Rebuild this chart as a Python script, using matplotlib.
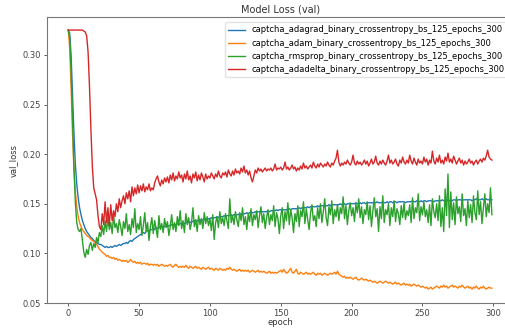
import matplotlib
matplotlib.use('Agg')
import matplotlib.pyplot as plt

epochs = list(range(300))

labels = [
    'captcha_adagrad_binary_crossentropy_bs_125_epochs_300',
    'captcha_adam_binary_crossentropy_bs_125_epochs_300',
    'captcha_rmsprop_binary_crossentropy_bs_125_epochs_300',
    'captcha_adadelta_binary_crossentropy_bs_125_epochs_300',
]

adagrad = [
    0.325, 0.322, 0.300, 0.262, 0.222, 0.190, 0.170, 0.156, 0.146, 0.139,
    0.133, 0.129, 0.125, 0.122, 0.120, 0.118, 0.116, 0.115, 0.113, 0.112,
    0.111, 0.110, 0.109, 0.109, 0.108, 0.107, 0.106, 0.107, 0.106, 0.106,
    0.107, 0.106, 0.107, 0.108, 0.107, 0.108, 0.109, 0.108, 0.109, 0.110,
    0.110, 0.111, 0.110, 0.112, 0.113, 0.112, 0.114, 0.115, 0.116, 0.117,
    0.118, 0.119, 0.120, 0.121, 0.120, 0.122, 0.123, 0.122, 0.124, 0.124,
    0.125, 0.124, 0.126, 0.125, 0.126, 0.127, 0.126, 0.127, 0.127, 0.128,
    0.127, 0.128, 0.128, 0.129, 0.128, 0.129, 0.129, 0.130, 0.129, 0.130,
    0.130, 0.131, 0.130, 0.131, 0.131, 0.132, 0.131, 0.132, 0.132, 0.133,
    0.132, 0.133, 0.133, 0.134, 0.133, 0.134, 0.134, 0.135, 0.134, 0.135,
    0.135, 0.136, 0.135, 0.136, 0.136, 0.137, 0.136, 0.137, 0.137, 0.137,
    0.138, 0.137, 0.138, 0.138, 0.138, 0.139, 0.138, 0.139, 0.139, 0.139,
    0.139, 0.140, 0.139, 0.140, 0.140, 0.140, 0.141, 0.140, 0.141, 0.141,
    0.141, 0.141, 0.142, 0.141, 0.142, 0.142, 0.141, 0.142, 0.142, 0.142,
    0.142, 0.143, 0.142, 0.143, 0.143, 0.143, 0.143, 0.144, 0.143, 0.144,
    0.144, 0.143, 0.144, 0.144, 0.144, 0.144, 0.145, 0.144, 0.145, 0.145,
    0.145, 0.145, 0.145, 0.146, 0.145, 0.146, 0.146, 0.146, 0.146, 0.147,
    0.146, 0.147, 0.147, 0.147, 0.147, 0.147, 0.148, 0.147, 0.148, 0.148,
    0.148, 0.148, 0.148, 0.148, 0.149, 0.148, 0.149, 0.149, 0.149, 0.149,
    0.149, 0.149, 0.150, 0.149, 0.150, 0.150, 0.149, 0.150, 0.150, 0.150,
    0.150, 0.150, 0.150, 0.151, 0.150, 0.150, 0.151, 0.150, 0.151, 0.151,
    0.150, 0.151, 0.151, 0.151, 0.151, 0.151, 0.151, 0.151, 0.152, 0.151,
    0.151, 0.151, 0.152, 0.151, 0.151, 0.152, 0.151, 0.152, 0.152, 0.151,
    0.152, 0.152, 0.151, 0.152, 0.152, 0.152, 0.152, 0.152, 0.151, 0.152,
    0.152, 0.152, 0.152, 0.153, 0.152, 0.152, 0.153, 0.152, 0.152, 0.153,
    0.152, 0.153, 0.153, 0.152, 0.153, 0.153, 0.153, 0.153, 0.152, 0.153,
    0.153, 0.153, 0.153, 0.153, 0.154, 0.153, 0.153, 0.154, 0.153, 0.153,
    0.154, 0.153, 0.154, 0.154, 0.153, 0.154, 0.154, 0.154, 0.153, 0.154,
    0.154, 0.154, 0.154, 0.154, 0.154, 0.153, 0.154, 0.154, 0.155, 0.154,
    0.154, 0.154, 0.155, 0.154, 0.154, 0.155, 0.154, 0.154, 0.155, 0.154,
]

adam = [
    0.325, 0.308, 0.268, 0.222, 0.185, 0.162, 0.147, 0.137, 0.131, 0.127,
    0.124, 0.122, 0.120, 0.118, 0.117, 0.116, 0.114, 0.113, 0.112, 0.111,
    0.109, 0.107, 0.104, 0.103, 0.101, 0.100, 0.099, 0.097, 0.098, 0.096,
    0.096, 0.095, 0.096, 0.094, 0.095, 0.093, 0.094, 0.093, 0.092, 0.093,
    0.092, 0.093, 0.091, 0.092, 0.094, 0.092, 0.091, 0.092, 0.090, 0.091,
    0.090, 0.091, 0.089, 0.090, 0.090, 0.089, 0.090, 0.088, 0.089, 0.089,
    0.088, 0.089, 0.088, 0.089, 0.087, 0.088, 0.089, 0.088, 0.087, 0.088,
    0.087, 0.088, 0.089, 0.087, 0.086, 0.088, 0.089, 0.087, 0.086, 0.087,
    0.086, 0.087, 0.086, 0.088, 0.086, 0.085, 0.087, 0.086, 0.085, 0.086,
    0.087, 0.085, 0.086, 0.085, 0.084, 0.086, 0.085, 0.084, 0.085, 0.086,
    0.084, 0.085, 0.084, 0.083, 0.085, 0.084, 0.083, 0.085, 0.084, 0.083,
    0.084, 0.083, 0.085, 0.084, 0.086, 0.084, 0.083, 0.084, 0.083, 0.082,
    0.083, 0.084, 0.082, 0.083, 0.082, 0.083, 0.082, 0.083, 0.081, 0.082,
    0.083, 0.082, 0.081, 0.082, 0.083, 0.081, 0.082, 0.081, 0.082, 0.081,
    0.080, 0.081, 0.082, 0.080, 0.081, 0.080, 0.081, 0.080, 0.081, 0.082,
    0.083, 0.081, 0.084, 0.082, 0.080, 0.081, 0.083, 0.085, 0.081, 0.080,
    0.082, 0.084, 0.080, 0.079, 0.081, 0.080, 0.079, 0.080, 0.081, 0.079,
    0.080, 0.079, 0.080, 0.081, 0.079, 0.078, 0.080, 0.079, 0.080, 0.078,
    0.079, 0.080, 0.079, 0.078, 0.079, 0.080, 0.079, 0.080, 0.081, 0.079,
    0.082, 0.079, 0.078, 0.077, 0.076, 0.077, 0.075, 0.076, 0.075, 0.076,
    0.075, 0.074, 0.075, 0.076, 0.074, 0.073, 0.074, 0.075, 0.074, 0.073,
    0.074, 0.073, 0.072, 0.073, 0.072, 0.071, 0.072, 0.071, 0.070, 0.071,
    0.072, 0.071, 0.070, 0.071, 0.072, 0.071, 0.070, 0.071, 0.070, 0.069,
    0.070, 0.071, 0.069, 0.070, 0.069, 0.068, 0.069, 0.070, 0.068, 0.069,
    0.068, 0.069, 0.067, 0.068, 0.069, 0.068, 0.067, 0.068, 0.067, 0.066,
    0.067, 0.066, 0.065, 0.066, 0.064, 0.065, 0.066, 0.064, 0.065, 0.066,
    0.067, 0.066, 0.065, 0.067, 0.066, 0.068, 0.066, 0.067, 0.065, 0.066,
    0.067, 0.068, 0.066, 0.067, 0.066, 0.065, 0.067, 0.066, 0.068, 0.066,
    0.065, 0.066, 0.067, 0.065, 0.066, 0.064, 0.066, 0.065, 0.067, 0.065,
    0.064, 0.066, 0.065, 0.067, 0.065, 0.064, 0.065, 0.066, 0.065, 0.065,
]

rmsprop = [
    0.325, 0.318, 0.285, 0.236, 0.188, 0.152, 0.131, 0.124, 0.122, 0.125,
    0.113, 0.101, 0.096, 0.104, 0.099, 0.108, 0.111, 0.103, 0.110, 0.106,
    0.116, 0.111, 0.121, 0.117, 0.128, 0.119, 0.133, 0.122, 0.136, 0.124,
    0.131, 0.120, 0.138, 0.126, 0.130, 0.121, 0.134, 0.127, 0.118, 0.132,
    0.125, 0.140, 0.122, 0.129, 0.119, 0.135, 0.126, 0.145, 0.121, 0.130,
    0.124, 0.137, 0.118, 0.128, 0.141, 0.122, 0.131, 0.113, 0.127, 0.136,
    0.120, 0.133, 0.125, 0.116, 0.138, 0.124, 0.130, 0.121, 0.135, 0.126,
    0.132, 0.118, 0.127, 0.139, 0.124, 0.131, 0.122, 0.137, 0.128, 0.143,
    0.125, 0.133, 0.121, 0.140, 0.129, 0.136, 0.124, 0.131, 0.146, 0.127,
    0.134, 0.122, 0.138, 0.129, 0.135, 0.125, 0.141, 0.130, 0.137, 0.128,
    0.135, 0.123, 0.139, 0.114, 0.131, 0.137, 0.126, 0.142, 0.130, 0.136,
    0.128, 0.140, 0.133, 0.125, 0.155, 0.131, 0.138, 0.129, 0.142, 0.134,
    0.127, 0.141, 0.133, 0.146, 0.129, 0.137, 0.124, 0.140, 0.132, 0.145,
    0.128, 0.139, 0.134, 0.143, 0.126, 0.138, 0.147, 0.131, 0.140, 0.125,
    0.136, 0.144, 0.129, 0.139, 0.133, 0.148, 0.127, 0.141, 0.135, 0.120,
    0.138, 0.146, 0.125, 0.142, 0.133, 0.151, 0.129, 0.144, 0.136, 0.121,
    0.140, 0.132, 0.148, 0.127, 0.143, 0.137, 0.152, 0.130, 0.145, 0.134,
    0.124, 0.141, 0.149, 0.133, 0.138, 0.127, 0.146, 0.135, 0.150, 0.131,
    0.142, 0.155, 0.136, 0.128, 0.147, 0.139, 0.153, 0.130, 0.144, 0.137,
    0.149, 0.133, 0.146, 0.140, 0.157, 0.135, 0.148, 0.129, 0.143, 0.151,
    0.138, 0.146, 0.132, 0.150, 0.141, 0.155, 0.136, 0.147, 0.130, 0.144,
    0.139, 0.152, 0.134, 0.148, 0.127, 0.143, 0.156, 0.137, 0.145, 0.122,
    0.147, 0.135, 0.158, 0.131, 0.144, 0.139, 0.150, 0.128, 0.146, 0.137,
    0.153, 0.132, 0.145, 0.140, 0.129, 0.148, 0.136, 0.151, 0.134, 0.143,
    0.138, 0.149, 0.131, 0.156, 0.135, 0.146, 0.141, 0.160, 0.133, 0.147,
    0.139, 0.152, 0.137, 0.144, 0.131, 0.149, 0.128, 0.155, 0.142, 0.136,
    0.150, 0.133, 0.158, 0.127, 0.146, 0.122, 0.165, 0.138, 0.180, 0.126,
    0.162, 0.134, 0.151, 0.129, 0.157, 0.140, 0.147, 0.132, 0.160, 0.138,
    0.145, 0.128, 0.153, 0.136, 0.149, 0.131, 0.158, 0.141, 0.134, 0.163,
    0.139, 0.152, 0.130, 0.146, 0.160, 0.137, 0.150, 0.141, 0.166, 0.139,
]

adadelta = [
    0.325, 0.325, 0.325, 0.325, 0.325, 0.325, 0.325, 0.325, 0.325, 0.325,
    0.325, 0.324, 0.323, 0.319, 0.303, 0.268, 0.225, 0.188, 0.166, 0.160,
    0.154, 0.138, 0.127, 0.124, 0.140, 0.129, 0.152, 0.131, 0.146, 0.128,
    0.149, 0.133, 0.143, 0.137, 0.150, 0.142, 0.155, 0.146, 0.153, 0.158,
    0.150, 0.161, 0.155, 0.163, 0.152, 0.167, 0.158, 0.166, 0.160, 0.169,
    0.161, 0.168, 0.163, 0.170, 0.162, 0.167, 0.164, 0.170, 0.163, 0.166,
    0.164, 0.171, 0.175, 0.178, 0.172, 0.168, 0.174, 0.170, 0.176, 0.172,
    0.177, 0.171, 0.179, 0.174, 0.181, 0.173, 0.178, 0.175, 0.182, 0.176,
    0.179, 0.172, 0.180, 0.175, 0.183, 0.174, 0.178, 0.171, 0.180, 0.176,
    0.182, 0.173, 0.179, 0.174, 0.181, 0.177, 0.172, 0.180, 0.175, 0.178,
    0.176, 0.181, 0.178, 0.175, 0.180, 0.177, 0.183, 0.178, 0.176, 0.181,
    0.179, 0.182, 0.177, 0.184, 0.180, 0.178, 0.183, 0.179, 0.185, 0.181,
    0.183, 0.180, 0.186, 0.182, 0.188, 0.181, 0.184, 0.179, 0.183, 0.176,
    0.172, 0.178, 0.184, 0.181, 0.186, 0.183, 0.185, 0.182, 0.184, 0.186,
    0.183, 0.185, 0.184, 0.186, 0.183, 0.185, 0.190, 0.184, 0.186, 0.185,
    0.187, 0.184, 0.186, 0.192, 0.185, 0.187, 0.184, 0.186, 0.189, 0.185,
    0.187, 0.183, 0.186, 0.184, 0.188, 0.185, 0.191, 0.186, 0.188, 0.185,
    0.187, 0.189, 0.186, 0.192, 0.188, 0.186, 0.190, 0.187, 0.191, 0.189,
    0.187, 0.190, 0.188, 0.192, 0.189, 0.187, 0.191, 0.189, 0.193, 0.196,
    0.204, 0.192, 0.188, 0.191, 0.189, 0.192, 0.190, 0.194, 0.191, 0.189,
    0.192, 0.199, 0.191, 0.189, 0.193, 0.190, 0.192, 0.189, 0.191, 0.194,
    0.190, 0.193, 0.188, 0.191, 0.195, 0.190, 0.192, 0.198, 0.191, 0.189,
    0.193, 0.190, 0.194, 0.191, 0.189, 0.193, 0.199, 0.191, 0.194, 0.190,
    0.192, 0.195, 0.190, 0.188, 0.194, 0.191, 0.197, 0.192, 0.190, 0.194,
    0.191, 0.199, 0.193, 0.190, 0.196, 0.192, 0.189, 0.195, 0.191, 0.193,
    0.190, 0.197, 0.192, 0.195, 0.189, 0.194, 0.191, 0.203, 0.193, 0.190,
    0.196, 0.192, 0.199, 0.191, 0.194, 0.190, 0.197, 0.193, 0.201, 0.192,
    0.195, 0.191, 0.198, 0.194, 0.190, 0.193, 0.196, 0.191, 0.194, 0.189,
    0.193, 0.190, 0.192, 0.195, 0.191, 0.193, 0.189, 0.192, 0.194, 0.190,
    0.193, 0.195, 0.192, 0.196, 0.194, 0.198, 0.204, 0.197, 0.195, 0.194,
]

series = [adagrad, adam, rmsprop, adadelta]

fig = plt.figure(figsize=(5.06, 3.29), dpi=100)
# the source picture is cropped on the right, so the axes run past the figure edge
ax = fig.add_axes([0.093, 0.079, 0.921, 0.869])

for vals, lab in zip(series, labels):
    ax.plot(epochs, vals, label=lab, linewidth=1.0)

ax.set_title('Model Loss (val)', fontsize=7, color='#333333', pad=3)
ax.set_xlabel('epoch', fontsize=6, color='#333333', labelpad=0)
ax.set_ylabel('val_loss', fontsize=6, color='#333333', labelpad=3)
ax.set_yticks([0.05, 0.10, 0.15, 0.20, 0.25, 0.30])
ax.tick_params(labelsize=6, colors='#444444', length=2.5, width=0.6, pad=2)
for sp in ax.spines.values():
    sp.set_color('#777777')
    sp.set_linewidth(0.8)

ax.legend(loc='upper right', fontsize=6, frameon=True, framealpha=0.8,
          edgecolor='#dddddd', handlelength=2.0, borderaxespad=0.6)

fig.savefig('out.png', dpi=100)
